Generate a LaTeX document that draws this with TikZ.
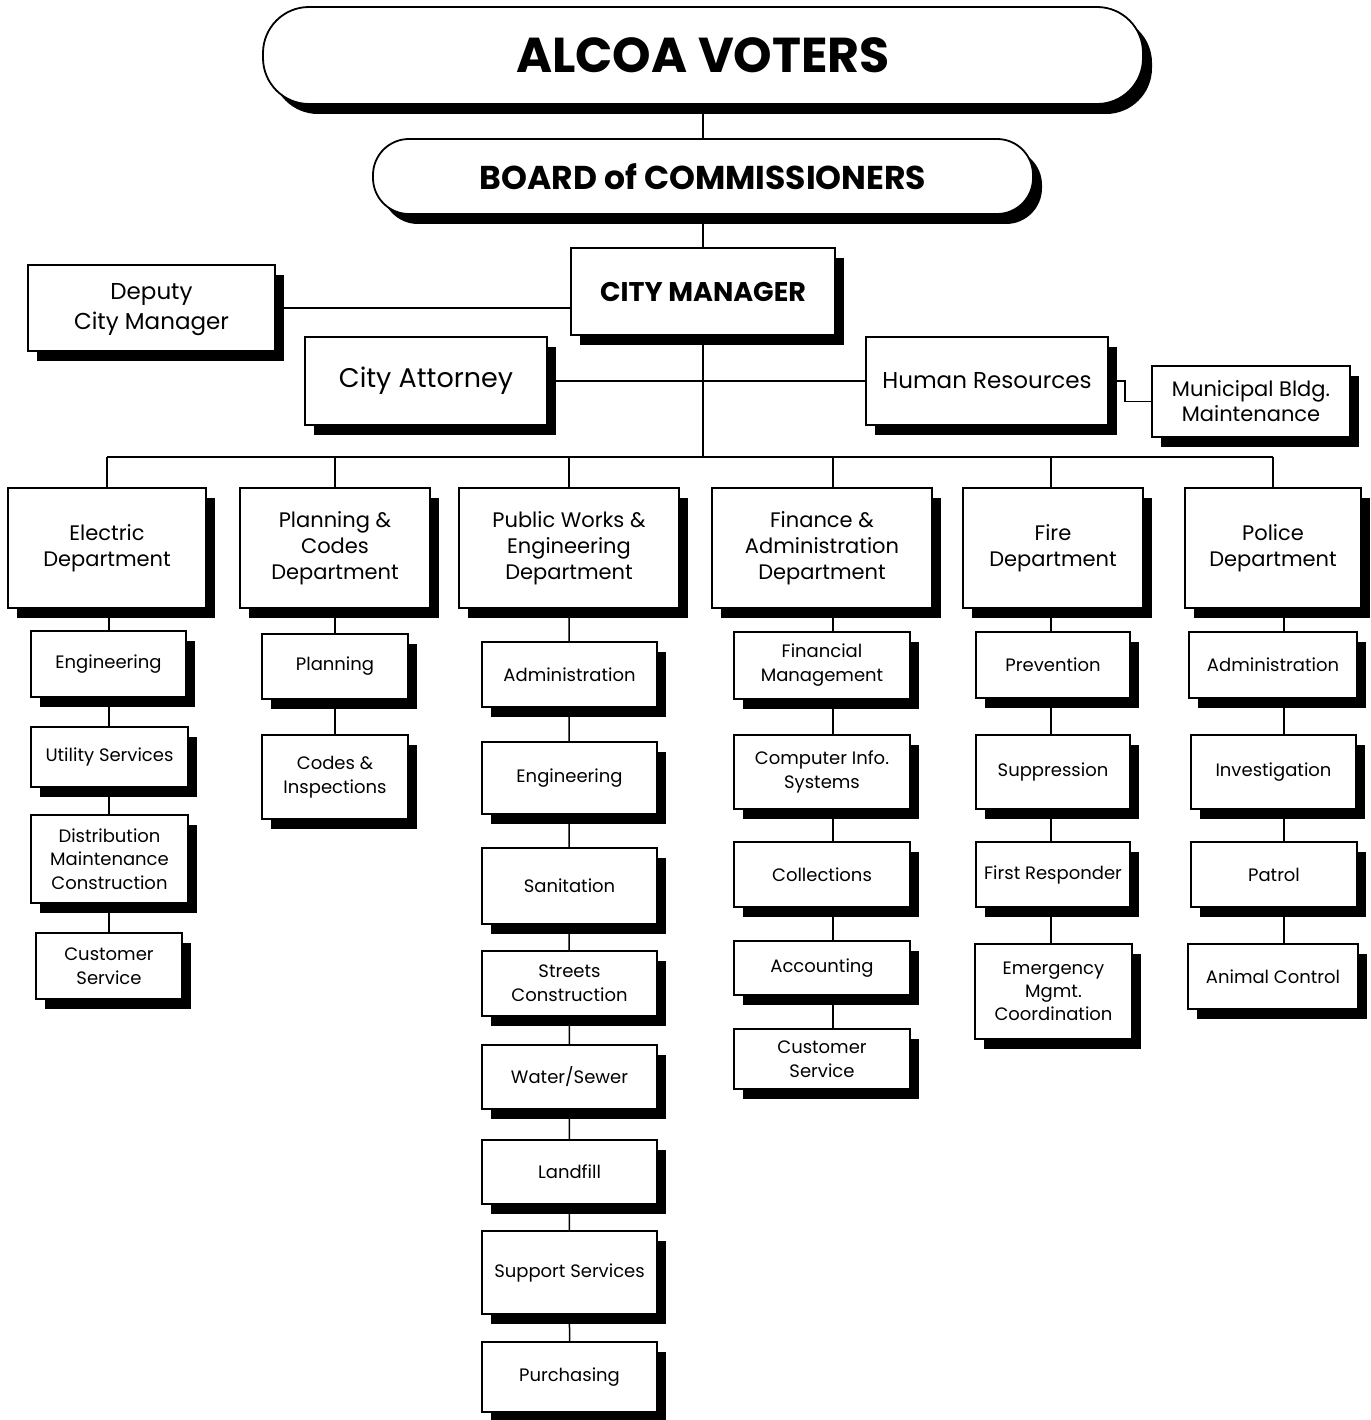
\documentclass[tikz,border=0pt]{standalone}
\usepackage{fontspec}
\setmainfont{Poppins}
\usetikzlibrary{shadows,backgrounds}
\tikzset{
  box/.style={draw,line width=1.8pt,fill=white,inner sep=0pt,align=center,
    drop shadow={shadow xshift=9pt,shadow yshift=-10pt,fill=black,opacity=1}},
  oval/.style={box,rounded corners=46pt},
  conn/.style={line width=1.5pt},
}
\newcommand\fs[2]{\fontsize{#1}{#2}\selectfont}
\newcommand\ob[7]{\node[box,font=#7,minimum width={#4-#2},minimum height={#5-#3}] (#1) at ({(#2+#4)/2},{(#3+#5)/2}) {#6};}
\begin{document}
\begin{tikzpicture}[x=1pt,y=-1pt]
\useasboundingbox (0,0) rectangle (1370,1420);
% top
\node[oval,font=\fs{49}{56}\bfseries,minimum width=880,minimum height=97] (alcoa) at (703,55.5) {ALCOA VOTERS};
\node[oval,rounded corners=36pt,font=\fs{33}{40}\bfseries,minimum width=660,minimum height=75] (board) at (703,176.5) {BOARD of COMMISSIONERS};
\ob{cm}{571}{248}{835}{335}{CITY MANAGER}{\fs{27}{32}\bfseries}
\ob{dep}{28}{265}{275}{351}{\rule{0pt}{20pt}Deputy\\City Manager}{\fs{23}{30}}
\ob{att}{305}{337}{547}{425}{City Attorney}{\fs{27}{32}}
\ob{hr}{866}{337}{1108}{425}{Human Resources}{\fs{23}{28}}
\ob{mb}{1152}{366}{1350}{437}{Municipal Bldg.\\Maintenance}{\fs{21}{25}}
% departments
\ob{elec}{8}{488}{206}{608}{Electric\\Department}{\fs{21}{26}}
\ob{plan}{240}{488}{430}{608}{Planning \&\\Codes\\Department}{\fs{21}{26}}
\ob{pw}{459}{488}{679}{608}{Public Works \&\\Engineering\\Department}{\fs{21}{26}}
\ob{fin}{712}{488}{932}{608}{Finance \&\\Administration\\Department}{\fs{21}{26}}
\ob{fire}{963}{488}{1143}{608}{Fire\\Department}{\fs{21}{26}}
\ob{pol}{1185}{488}{1361}{608}{Police\\Department}{\fs{21}{26}}
% electric
\ob{e1}{31}{631}{186}{697}{Engineering}{\fs{18}{24}}
\ob{e2}{31}{727}{188}{787}{Utility Services}{\fs{18}{24}}
\ob{e3}{31}{815}{188}{903}{Distribution\\Maintenance\\Construction}{\fs{18}{23.5}}
\ob{e4}{36}{933}{182}{999}{Customer\\Service}{\fs{18}{24}}
% planning
\ob{p1}{262}{634}{408}{699}{Planning}{\fs{18}{24}}
\ob{p2}{262}{735}{408}{819}{Codes \&\\Inspections}{\fs{18}{24}}
% public works
\ob{w1}{482}{642}{657}{707}{Administration}{\fs{18}{24}}
\ob{w2}{482}{742}{657}{814}{Engineering}{\fs{18}{24}}
\ob{w3}{482}{848}{657}{924}{Sanitation}{\fs{18}{24}}
\ob{w4}{482}{951}{657}{1016}{Streets\\Construction}{\fs{18}{24}}
\ob{w5}{482}{1045}{657}{1109}{Water/Sewer}{\fs{18}{24}}
\ob{w6}{482}{1140}{657}{1204}{Landfill}{\fs{18}{24}}
\ob{w7}{482}{1231}{657}{1314}{Support Services}{\fs{18}{24}}
\ob{w8}{482}{1342}{657}{1412}{Purchasing}{\fs{18}{24}}
% finance
\ob{f1}{734}{632}{910}{699}{Financial\\Management}{\fs{18}{24}}
\ob{f2}{734}{735}{910}{809}{Computer Info.\\Systems}{\fs{18}{24}}
\ob{f3}{734}{842}{910}{907}{Collections}{\fs{18}{24}}
\ob{f4}{734}{941}{910}{995}{Accounting}{\fs{18}{24}}
\ob{f5}{734}{1029}{910}{1089}{Customer\\Service}{\fs{18}{24}}
% fire
\ob{r1}{976}{632}{1130}{698}{Prevention}{\fs{18}{24}}
\ob{r2}{976}{735}{1130}{809}{Suppression}{\fs{18}{24}}
\ob{r3}{976}{842}{1130}{907}{First Responder}{\fs{18}{24}}
\ob{r4}{975}{944}{1132}{1039}{Emergency\\Mgmt.\\Coordination}{\fs{18}{23}}
% police
\ob{c1}{1189}{632}{1357}{698}{Administration}{\fs{18}{24}}
\ob{c2}{1191}{735}{1356}{809}{Investigation}{\fs{18}{24}}
\ob{c3}{1191}{842}{1357}{907}{Patrol}{\fs{18}{24}}
\ob{c4}{1188}{944}{1358}{1009}{Animal Control}{\fs{18}{24}}
% connectors
\coordinate (busL) at (107,457);
\coordinate (busR) at (1273,457);
\coordinate (busM) at (703,457);
\coordinate (hrk) at (1125,381);
\coordinate (xe) at (109,0);
\coordinate (xf) at (833,0);
\coordinate (xr) at (1051,0);
\coordinate (xc) at (1284,0);
\begin{pgfonlayer}{background}
\draw[conn] (alcoa) -- (board);
\draw[conn] (board) -- (cm);
\draw[conn] (cm) -- (busM);
\draw[conn] (dep.east) -- (dep.east -| cm.west);
\draw[conn] (att.east) -- (hr.west);
\draw[conn] (hr.east) -- (hrk) |- (mb.west);
\draw[conn] (busL) -- (busR);
\draw[conn] (busL) -- (elec.north);
\draw[conn] (busL -| plan.north) -- (plan.north);
\draw[conn] (busL -| pw.north) -- (pw.north);
\draw[conn] (busL -| xf) -- (fin.north -| xf);
\draw[conn] (busL -| xr) -- (fire.north -| xr);
\draw[conn] (busR) -- (pol.north);
\draw[conn] (elec.south -| xe) -- (e4.north -| xe);
\draw[conn] (plan.south) -- (p2.north);
\draw[conn] (pw.south) -- (w8.north);
\draw[conn] (fin.south -| xf) -- (f5.north -| xf);
\draw[conn] (fire.south -| xr) -- (r4.north -| xr);
\draw[conn] (pol.south -| xc) -- (c4.north -| xc);
\end{pgfonlayer}
\end{tikzpicture}
\end{document}
